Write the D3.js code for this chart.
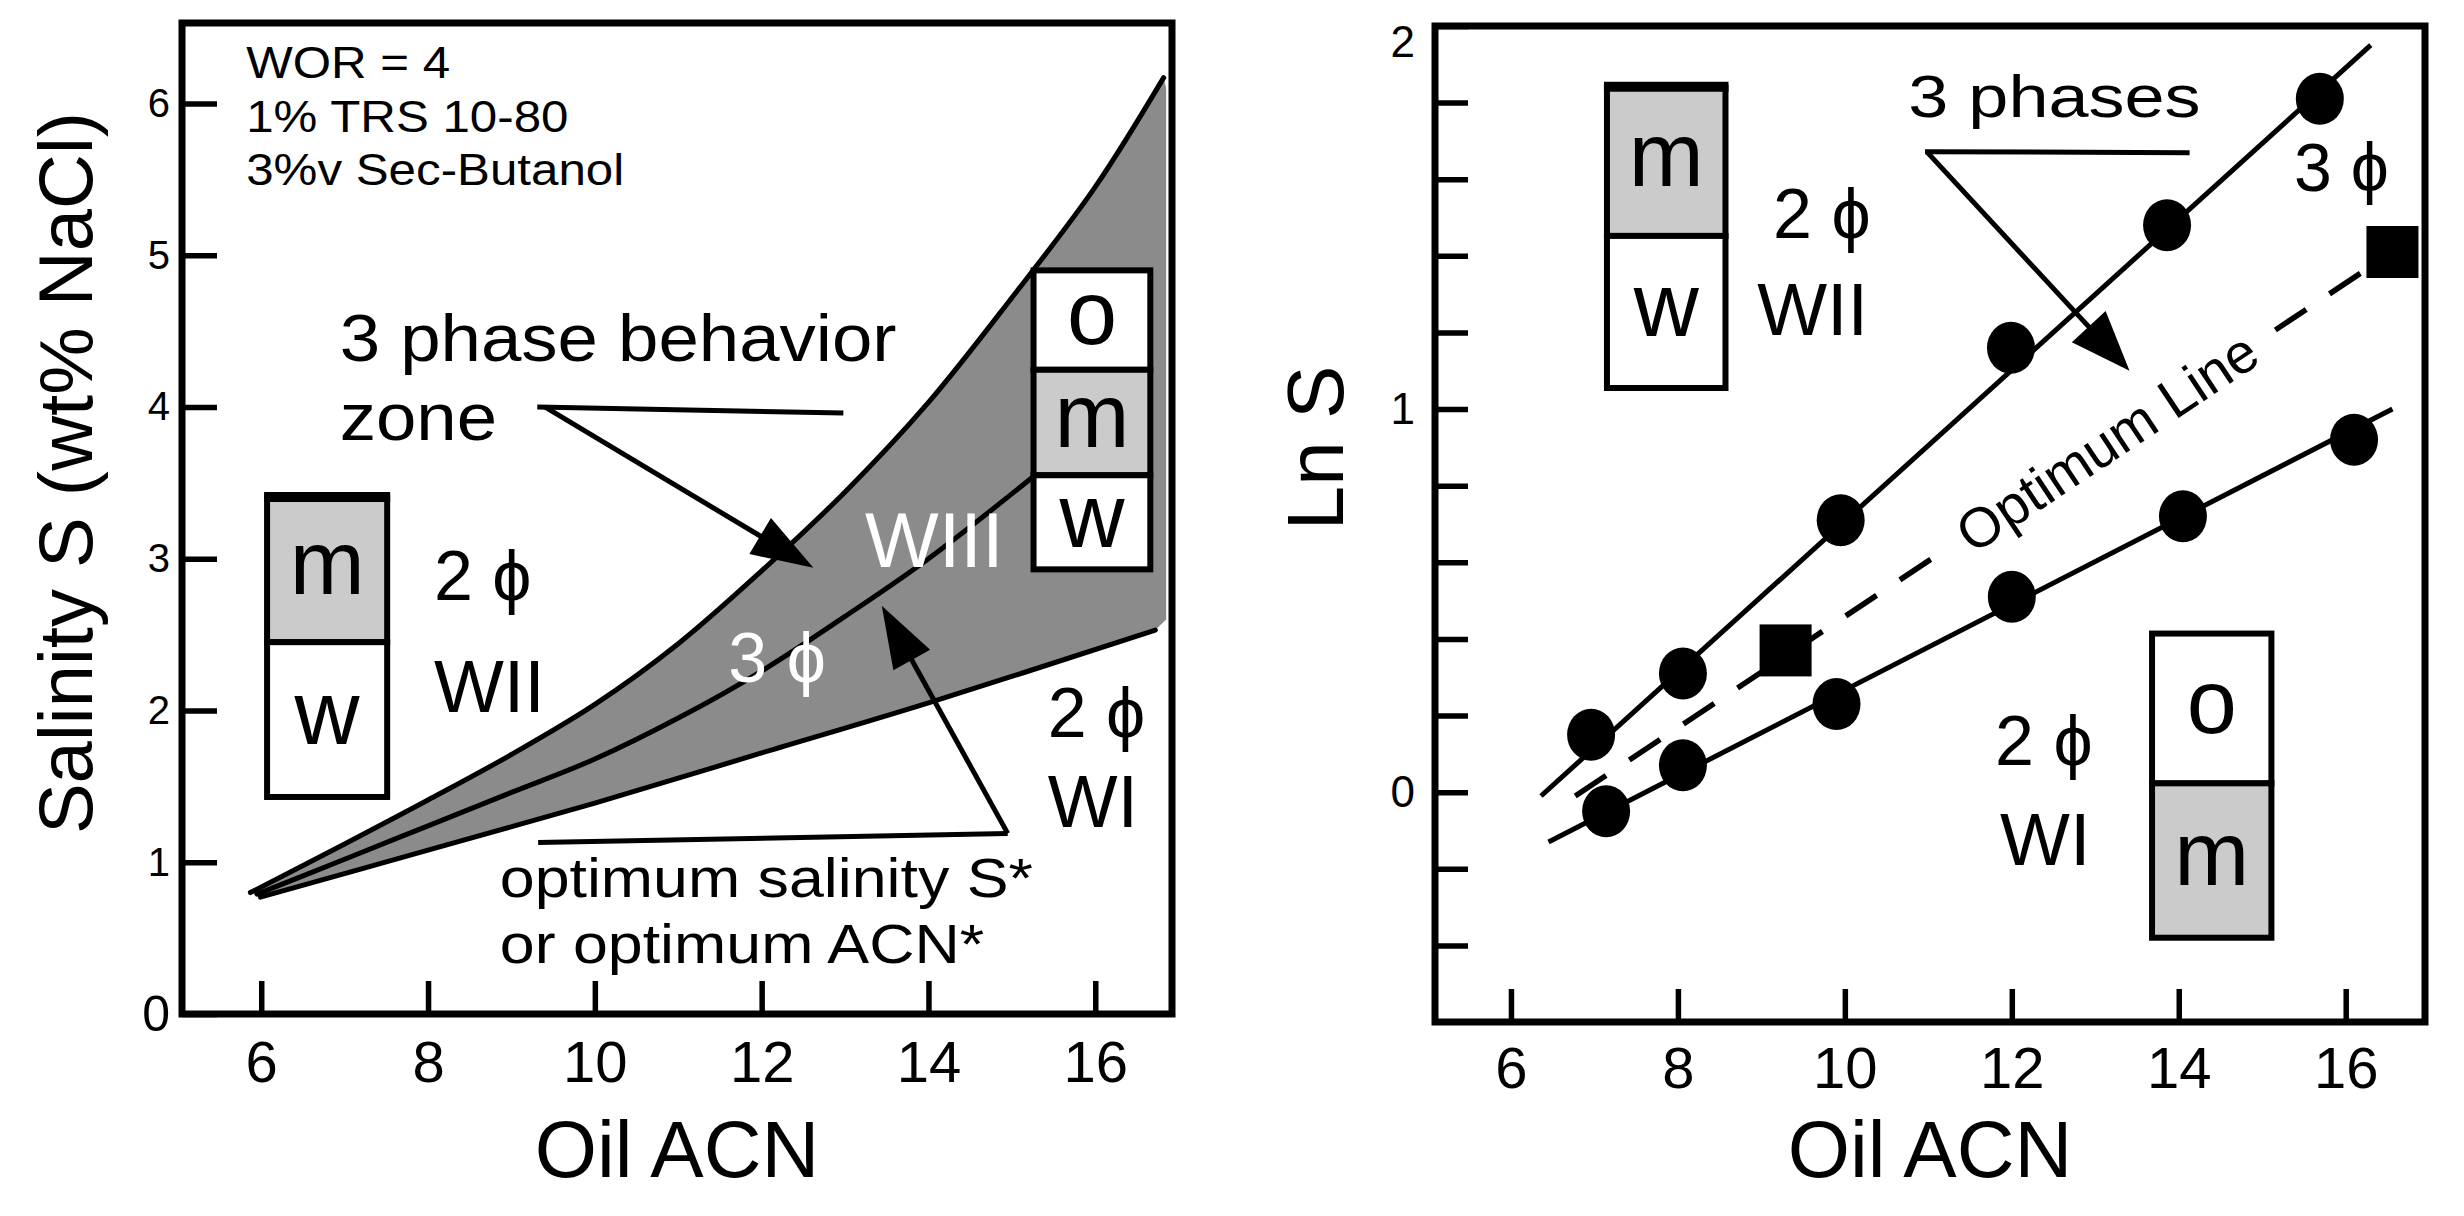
<!DOCTYPE html>
<html lang="en">
<head>
<meta charset="UTF-8">
<title>Phase behavior vs oil ACN</title>
<style>
  body { margin: 0; background: #fff; }
  svg text { font-family: "Liberation Sans", Arial, sans-serif; fill: #000; }
</style>
</head>
<body>
<svg width="2464" height="1216"></svg>
<script src="https://d3js.org/d3.v7.min.js"></script>
<script>
// ---- left panel: salinity scan boundaries (wt% NaCl vs oil ACN)
const upperACN = [5.87, 7, 8, 9, 10, 11, 12, 13, 14, 15, 16, 16.82];
const upperS   = [0.80, 1.12, 1.41, 1.71, 2.04, 2.44, 2.92, 3.44, 4.03, 4.72, 5.45, 6.17];
const optACN   = [5.95, 7, 8, 9, 10, 11, 12, 13, 14, 15.3];
const optS     = [0.79, 1.02, 1.24, 1.46, 1.68, 1.95, 2.26, 2.62, 3.00, 3.56];
const lowerACN = [5.99, 8, 10, 12, 14, 16.72];
const lowerS   = [0.77, 1.08, 1.39, 1.72, 2.05, 2.53];

// ---- right panel: Ln S vs oil ACN
const acnHigh = [6.96, 8.06, 9.95, 11.99, 13.86, 15.69];
const lnSHigh = [0.15, 0.31, 0.71, 1.16, 1.48, 1.81];
const acnLow  = [7.14, 8.06, 9.90, 12.0, 14.05, 16.1];
const lnSLow  = [-0.05, 0.07, 0.23, 0.51, 0.72, 0.92];
const acnOpt  = [9.29, 16.56];
const lnSOpt  = [0.37, 1.41];
const fitHighACN = [6.36, 16.3],  fitHighLnS = [-0.01, 1.95];
const fitLowACN  = [6.45, 16.56], fitLowLnS  = [-0.13, 1.0];
const optLineACN = [6.77, 16.56], optLineLnS = [-0.01, 1.41];

// ---- ticks
const xTicks = [6, 8, 10, 12, 14, 16];
const leftYTicks = [0, 1, 2, 3, 4, 5, 6];
const rightYTicks = [-0.4, -0.2, 0, 0.2, 0.4, 0.6, 0.8, 1, 1.2, 1.4, 1.6, 1.8, 2];
const rightYLabels = [0, 1, 2];

const PHI = "\u03d5";
const svg = d3.select("svg");
svg.append("rect").attr("width", 2464).attr("height", 1216).attr("fill", "#fff");

const xL = d3.scaleLinear().domain([5.05, 16.92]).range([182, 1172]);
const yL = d3.scaleLinear().domain([0, 6.53]).range([1014, 23]);
const xR = d3.scaleLinear().domain([5.09, 16.95]).range([1435, 2425]);
const yR = d3.scaleLinear().domain([-0.6, 2]).range([1022, 26]);

const GRAY = "#8b8b8b", LIGHT = "#cbcbcb";
const pairs = (xs, ys) => xs.map((v, i) => [v, ys[i]]);

function note(g, x, y, str, size, opts = {}) {
  const t = g.append("text")
    .attr("transform", `translate(${x},${y}) scale(${opts.sx || 1},1)`)
    .attr("font-size", size)
    .attr("text-anchor", opts.anchor || "start")
    .text(str);
  if (opts.fill) t.style("fill", opts.fill);
  return t;
}

function arrow(g, p0, p1, len, half) {
  const dx = p1[0] - p0[0], dy = p1[1] - p0[1], L = Math.hypot(dx, dy);
  const ux = dx / L, uy = dy / L;
  const bx = p1[0] - ux * len, by = p1[1] - uy * len;
  g.append("line").attr("x1", p0[0]).attr("y1", p0[1]).attr("x2", bx + ux * 4).attr("y2", by + uy * 4)
    .attr("stroke", "#000").attr("stroke-width", 5);
  g.append("path")
    .attr("d", `M${p1[0]},${p1[1]}L${bx - uy * half},${by + ux * half}L${bx + uy * half},${by - ux * half}Z`)
    .attr("fill", "#000");
}

function phaseBox(g, sx, sy, x0, x1, edges, labels, fills, thickTop) {
  const left = sx(x0), w = sx(x1) - sx(x0);
  labels.forEach((lab, i) => {
    const top = sy(edges[i]), bot = sy(edges[i + 1]);
    g.append("rect").attr("x", left).attr("y", top).attr("width", w).attr("height", bot - top)
      .attr("fill", fills[i]).attr("stroke", "#000").attr("stroke-width", 6);
    g.append("text").attr("x", left + w / 2).attr("y", (top + bot) / 2).attr("dy", "0.27em")
      .attr("text-anchor", "middle").attr("font-size", 90).text(lab);
  });
  if (thickTop) {
    g.append("line").attr("x1", left - 3).attr("x2", left + w + 3)
      .attr("y1", sy(edges[0]) - 1).attr("y2", sy(edges[0]) - 1)
      .attr("stroke", "#000").attr("stroke-width", 10);
  }
}

function styleAxis(ax, size) {
  ax.select(".domain").remove();
  ax.selectAll(".tick line").attr("stroke", "#000").attr("stroke-width", 5.5);
  ax.selectAll(".tick text").style("font-size", size + "px").style("fill", "#000");
}

// ================= LEFT PANEL =================
const gL = svg.append("g");
const lineL = d3.line().x(d => xL(d[0])).y(d => yL(d[1])).curve(d3.curveCatmullRom.alpha(0.5));
const up = pairs(upperACN, upperS), mid = pairs(optACN, optS), lo = pairs(lowerACN, lowerS);

const zonePath = lineL(up)
  + `L${xL(16.85)},${yL(6.1)}L${xL(16.85)},${yL(2.6)}`
  + lineL(lo.slice().reverse()).replace(/^M/, "L") + "Z";
gL.append("path").attr("d", zonePath).attr("fill", GRAY);

[up, mid, lo].forEach(d => {
  gL.append("path").attr("d", lineL(d)).attr("fill", "none")
    .attr("stroke", "#000").attr("stroke-width", 5).attr("stroke-linecap", "round");
});

phaseBox(gL, xL, yL, 6.07, 7.51, [3.40, 2.45, 1.43], ["m", "w"], [LIGHT, "#fff"], true);
phaseBox(gL, xL, yL, 15.26, 16.66, [4.9, 4.245, 3.55, 2.93], ["o", "m", "w"], ["#fff", LIGHT, "#fff"], false);

note(gL, xL(5.82), yL(6.17), "WOR = 4", 44, { sx: 1.12 });
note(gL, xL(5.82), yL(5.81), "1% TRS 10-80", 44, { sx: 1.12 });
note(gL, xL(5.82), yL(5.46), "3%v Sec-Butanol", 44, { sx: 1.12 });

note(gL, xL(6.94), yL(4.30), "3 phase behavior", 66, { sx: 1.1 });
note(gL, xL(6.94), yL(3.78), "zone", 66, { sx: 1.1 });
gL.append("line").attr("x1", xL(9.31)).attr("y1", yL(4.0)).attr("x2", xL(12.98)).attr("y2", yL(3.96))
  .attr("stroke", "#000").attr("stroke-width", 5);
arrow(gL, [xL(9.40), yL(4.0)], [xL(12.62), yL(2.94)], 62, 21);

note(gL, xL(13.24), yL(2.945), "WIII", 78, { fill: "#fff" });
note(gL, xL(11.60), yL(2.19), "3 " + PHI, 70, { fill: "#fff" });

gL.append("line").attr("x1", xL(9.32)).attr("y1", yL(1.13)).attr("x2", xL(14.95)).attr("y2", yL(1.19))
  .attr("stroke", "#000").attr("stroke-width", 5);
arrow(gL, [xL(14.95), yL(1.19)], [xL(13.44), yL(2.69)], 62, 21);
note(gL, xL(8.86), yL(0.77), "optimum salinity S*", 56, { sx: 1.12 });
note(gL, xL(8.86), yL(0.336), "or optimum ACN*", 56, { sx: 1.12 });

note(gL, xL(8.07), yL(2.73), "2 " + PHI, 70);
note(gL, xL(8.07), yL(1.99), "WII", 74);
note(gL, xL(15.43), yL(1.825), "2 " + PHI, 70);
note(gL, xL(15.43), yL(1.23), "WI", 74);

// axes + frame
const axLX = gL.append("g").attr("transform", `translate(0,${yL(0)})`)
  .call(d3.axisBottom(xL).tickValues(xTicks).tickSize(-33).tickPadding(27));
styleAxis(axLX, 58);
const axLY = gL.append("g").attr("transform", `translate(${xL.range()[0]},0)`)
  .call(d3.axisLeft(yL).tickValues(leftYTicks).tickFormat(d3.format("d")).tickSize(-35).tickPadding(12));
styleAxis(axLY, 40);
axLY.selectAll(".tick text").filter(d => d === 0).style("font-size", "50px");

gL.append("rect").attr("x", 182).attr("y", 23).attr("width", 990).attr("height", 991)
  .attr("fill", "none").attr("stroke", "#000").attr("stroke-width", 7);

note(gL, (xL.range()[0] + xL.range()[1]) / 2, 1177, "Oil ACN", 80, { anchor: "middle" });
gL.append("text").attr("transform", "translate(92,473) rotate(-90)")
  .attr("text-anchor", "middle").attr("font-size", 76).text("Salinity S (wt% NaCl)");

// ================= RIGHT PANEL =================
const gR = svg.append("g");
const lineR = d3.line().x(d => xR(d[0])).y(d => yR(d[1]));

[pairs(fitHighACN, fitHighLnS), pairs(fitLowACN, fitLowLnS)].forEach(d => {
  gR.append("path").attr("d", lineR(d)).attr("fill", "none")
    .attr("stroke", "#000").attr("stroke-width", 5);
});

// optimum line, dashed, interrupted by its label
const oa = [xR(optLineACN[0]), yR(optLineLnS[0])], ob = [xR(optLineACN[1]), yR(optLineLnS[1])];
const oLen = Math.hypot(ob[0] - oa[0], ob[1] - oa[1]);
const ang = Math.atan2(ob[1] - oa[1], ob[0] - oa[0]);
const tC = (2107 - oa[0]) / (ob[0] - oa[0]);
const optLabel = gR.append("text")
  .attr("transform", `translate(${oa[0] + (ob[0] - oa[0]) * tC},${oa[1] + (ob[1] - oa[1]) * tC}) rotate(${ang * 180 / Math.PI})`)
  .attr("text-anchor", "middle").attr("dy", "0.35em").attr("font-size", 56).text("Optimum Line");
const half = optLabel.node().getComputedTextLength() / 2 + 28;
const t1 = tC - half / oLen, t2 = tC + half / oLen;
const at = t => [optLineACN[0] + (optLineACN[1] - optLineACN[0]) * t, optLineLnS[0] + (optLineLnS[1] - optLineLnS[0]) * t];
[[at(0), at(t1)], [at(t2), at(1)]].forEach(seg => {
  gR.append("path").attr("d", lineR(seg)).attr("fill", "none")
    .attr("stroke", "#000").attr("stroke-width", 5.5).attr("stroke-dasharray", "37,28");
});

gR.selectAll("ellipse.pt")
  .data(pairs(acnHigh, lnSHigh).concat(pairs(acnLow, lnSLow)))
  .join("ellipse").attr("class", "pt")
  .attr("cx", d => xR(d[0])).attr("cy", d => yR(d[1]))
  .attr("rx", 24).attr("ry", 26).attr("fill", "#000");
gR.selectAll("rect.sq")
  .data(pairs(acnOpt, lnSOpt))
  .join("rect").attr("class", "sq")
  .attr("x", d => xR(d[0]) - 26).attr("y", d => yR(d[1]) - 26)
  .attr("width", 52).attr("height", 52).attr("fill", "#000");

phaseBox(gR, xR, yR, 7.15, 8.57, [1.839, 1.452, 1.055], ["m", "w"], [LIGHT, "#fff"], true);
phaseBox(gR, xR, yR, 13.68, 15.11, [0.414, 0.023, -0.38], ["o", "m"], ["#fff", LIGHT], false);

note(gR, xR(9.14), yR(1.447), "2 " + PHI, 70);
note(gR, xR(8.95), yR(1.194), "WII", 74);
note(gR, xR(15.38), yR(1.57), "3 " + PHI, 68);
note(gR, xR(11.80), yR(0.071), "2 " + PHI, 70);
note(gR, xR(11.86), yR(-0.19), "WI", 74);

note(gR, xR(10.76), yR(1.763), "3 phases", 60, { sx: 1.2 });
gR.append("line").attr("x1", xR(10.96)).attr("y1", yR(1.672)).attr("x2", xR(14.13)).attr("y2", yR(1.669))
  .attr("stroke", "#000").attr("stroke-width", 5);
arrow(gR, [xR(10.98), yR(1.672)], [xR(13.41), yR(1.10)], 60, 23);

const axRX = gR.append("g").attr("transform", `translate(0,${yR.range()[0]})`)
  .call(d3.axisBottom(xR).tickValues(xTicks).tickSize(-33).tickPadding(25));
styleAxis(axRX, 58);
const axRY = gR.append("g").attr("transform", `translate(${xR.range()[0]},0)`)
  .call(d3.axisLeft(yR).tickValues(rightYTicks).tickSize(-33).tickPadding(20)
    .tickFormat(d => rightYLabels.includes(d) ? d : ""));
styleAxis(axRY, 44);
axRY.selectAll(".tick text").filter(d => d === 2).attr("dy", "0.7em");

gR.append("rect").attr("x", 1435).attr("y", 26).attr("width", 990).attr("height", 996)
  .attr("fill", "none").attr("stroke", "#000").attr("stroke-width", 7);

note(gR, (xR.range()[0] + xR.range()[1]) / 2, 1177, "Oil ACN", 80, { anchor: "middle" });
gR.append("text").attr("transform", "translate(1343,448) rotate(-90)")
  .attr("text-anchor", "middle").attr("font-size", 80).text("Ln S");
</script>
</body>
</html>
